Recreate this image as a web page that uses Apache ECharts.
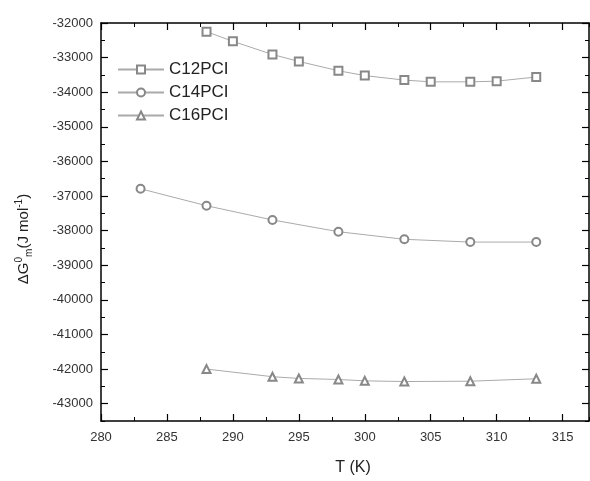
<!DOCTYPE html>
<html>
<head>
<meta charset="utf-8">
<script src="https://cdn.jsdelivr.net/npm/echarts@6/dist/echarts.min.js"></script>
<style>
  html, body { margin: 0; padding: 0; background: #fff; }
  #chart { width: 590px; height: 481px; }
</style>
</head>
<body>
<div id="chart"></div>
<script>
// temperatures (K)
const tC12 = [288, 290, 293, 295, 298, 300, 303, 305, 308, 310, 313];
const tC14 = [283, 288, 293, 298, 303, 308, 313];
const tC16 = [288, 293, 295, 298, 300, 303, 308, 313];

// ΔG°m (J mol-1)
const gC12 = [-32250, -32530, -32910, -33110, -33380, -33520, -33650, -33700, -33700, -33680, -33560];
const gC14 = [-36790, -37280, -37690, -38030, -38250, -38330, -38330];
const gC16 = [-42000, -42220, -42270, -42300, -42340, -42360, -42350, -42280];

const xTicks = [280, 285, 290, 295, 300, 305, 310, 315];
const yTicks = [-43000, -42000, -41000, -40000, -39000, -38000, -37000, -36000, -35000, -34000, -33000, -32000];

const X_MIN = 280, X_MAX = 317;
const Y_MIN = -43500, Y_MAX = -32000;
const FONT = 'Liberation Sans, Arial, sans-serif';

const chart = echarts.init(document.getElementById('chart'));

// one major + one minor axis per side, Origin-style inward ticks
function xAx(pos, major) {
  return {
    type: 'value', position: pos, min: X_MIN, max: X_MAX,
    interval: major ? 5 : 2.5,
    splitLine: { show: false },
    axisLine: { show: major, onZero: false, lineStyle: { color: '#000', width: 1.5 } },
    axisTick: major
      ? { inside: true, length: 7, customValues: xTicks, lineStyle: { color: '#000', width: 1.2 } }
      : { inside: true, length: 4, lineStyle: { color: '#000', width: 1 } },
    axisLabel: (major && pos === 'bottom')
      ? { customValues: xTicks, color: '#333', fontSize: 13, fontFamily: FONT, margin: 10,
          formatter: v => String(v) }
      : { show: false },
    name: (major && pos === 'bottom') ? 'T (K)' : '',
    nameLocation: 'middle', nameGap: 39,
    nameTextStyle: { color: '#222', fontSize: 16, fontFamily: FONT, padding: [0, 0, 0, 16] },
  };
}

function yAx(pos, major) {
  const left = major && pos === 'left';
  return {
    type: 'value', position: pos, min: Y_MIN, max: Y_MAX,
    interval: major ? 1000 : 500,
    splitLine: { show: false },
    axisLine: { show: major, onZero: false, lineStyle: { color: '#000', width: 1.5 } },
    axisTick: major
      ? { inside: true, length: 7, customValues: yTicks, lineStyle: { color: '#000', width: 1.2 } }
      : { inside: true, length: 4, lineStyle: { color: '#000', width: 1 } },
    axisLabel: left
      ? { customValues: yTicks, color: '#333', fontSize: 13, fontFamily: FONT, margin: 8,
          formatter: v => String(v) }
      : { show: false },
    name: left ? '{a|ΔG}{sup|0}{sub|m}{a|(J mol}{sup|-1}{a|)}' : '',
    nameLocation: 'middle', nameRotate: 90, nameGap: 67,
    nameTextStyle: {
      color: '#222', fontFamily: FONT, padding: [0, 34, 0, 0],
      rich: {
        a: { fontSize: 15, fontFamily: FONT, color: '#222', lineHeight: 20, verticalAlign: 'middle' },
        sup: { fontSize: 10, fontFamily: FONT, color: '#222', lineHeight: 20, verticalAlign: 'top' },
        sub: { fontSize: 10, fontFamily: FONT, color: '#222', lineHeight: 20, verticalAlign: 'bottom' },
      },
    },
  };
}

function line(name, xs, ys, symbol) {
  return {
    name, type: 'line', xAxisIndex: 0, yAxisIndex: 0,
    data: xs.map((t, i) => [t, ys[i]]),
    symbol, symbolSize: 8, showAllSymbol: true,
    lineStyle: { color: '#aaa', width: 1 },
    itemStyle: { color: '#888', borderWidth: 1 },
  };
}

chart.setOption({
  animation: false,
  grid: { left: 101, right: 1, top: 23, bottom: 57 },
  xAxis: [xAx('bottom', true), xAx('bottom', false), xAx('top', true), xAx('top', false)],
  yAxis: [yAx('left', true), yAx('left', false), yAx('right', true), yAx('right', false)],
  legend: {
    orient: 'vertical', left: 112, top: 56,
    itemWidth: 46, itemHeight: 10, itemGap: 6,
    textStyle: { color: '#222', fontSize: 17, fontFamily: FONT },
    data: ['C12PCI', 'C14PCI', 'C16PCI'],
  },
  series: [
    line('C12PCI', tC12, gC12, 'emptyRect'),
    line('C14PCI', tC14, gC14, 'emptyCircle'),
    line('C16PCI', tC16, gC16, 'emptyTriangle'),
  ],
});
</script>
</body>
</html>
